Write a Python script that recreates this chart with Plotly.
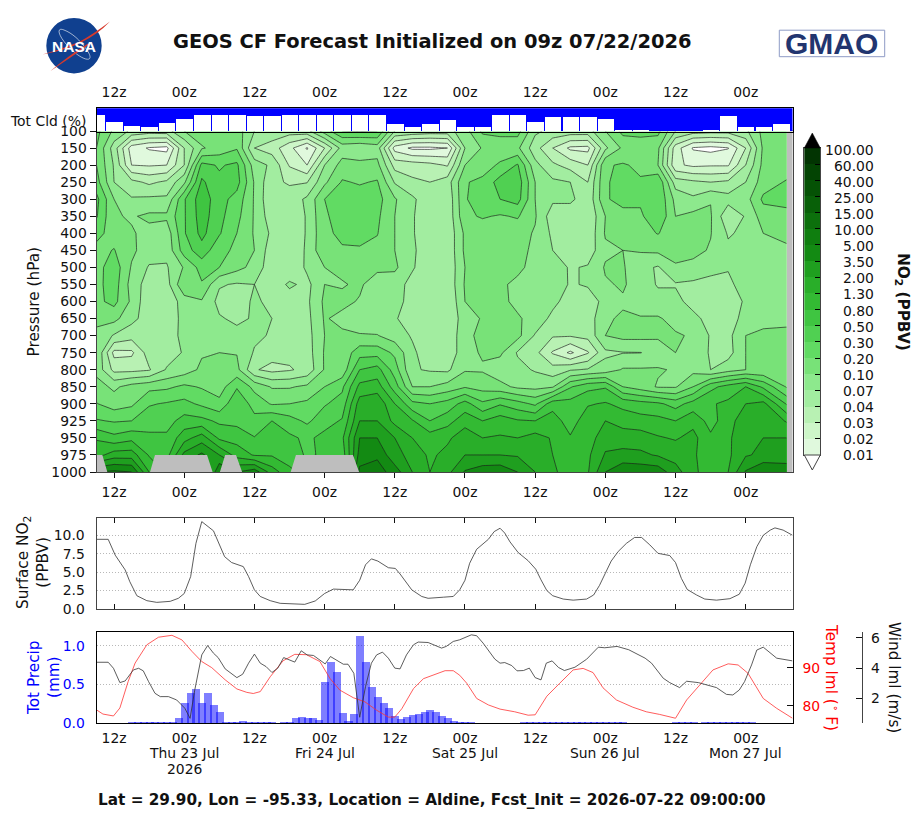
import plotly.graph_objects as go

W, H = 920, 819

# ---- time base: hours after forecast start (09z 22 Jul 2026) ----
tick_hours = [3, 15, 27, 39, 51, 63, 75, 87, 99, 111]
tick_names = ["12z", "00z", "12z", "00z", "12z", "00z", "12z", "00z", "12z", "00z"]
date_hours = [15, 39, 63, 87, 111]
date_names = ["Thu 23 Jul", "Fri 24 Jul", "Sat 25 Jul", "Sun 26 Jul", "Mon 27 Jul"]

# ---- NO2 curtain ----
pressure_labels = ["100", "150", "200", "250", "300", "350", "400", "450", "500", "550", "600",
                   "650", "700", "750", "800", "850", "900", "925", "950", "975", "1000"]
curtain_hours = [3 * i for i in range(39)] + [118]
no2_levels = ["0.01", "0.02", "0.03", "0.04", "0.07", "0.10", "0.20", "0.30", "0.50", "0.80",
              "1.30", "2.00", "3.50", "5.00", "10.00", "15.00", "25.00", "40.00", "60.00", "100.00"]
band_colors = ["#E0F9DD", "#CDF6C8", "#B8F1B3", "#A2EDA0", "#8DE98D", "#78E278", "#61DB63",
               "#50D052", "#3FC541", "#33BA33", "#29AE29", "#1F9F1F", "#138A13", "#0F7E0F",
               "#0C700C", "#086008", "#055205", "#034403", "#023402"]

# Each row is one pressure level; a value of n.f lies f of the way from no2_levels[n] to no2_levels[n+1].
no2_p100 = [6.3,4.8,3.8,3.5,3.6,5.0,5.5,5.6,5.5,4.0,3.7,3.5,3.7,5.5,7.0,7.1,7.0,4.0,3.8,3.6,3.6,4.6,6.2,6.4,6.4,4.2,3.7,3.6,3.6,5.0,6.3,6.4,6.3,4.0,3.5,3.4,3.4,3.8,5.3,5.2]
no2_p150 = [6.0,3.5,0.5,-0.1,-0.3,3.0,4.9,5.4,5.9,3.0,2.5,1.3,-0.1,2.0,4.4,4.2,4.5,0.6,-0.2,-0.2,0.0,4.0,5.1,5.2,5.2,3.4,2.0,0.8,0.7,3.8,5.2,5.3,5.2,1.5,-0.1,-0.3,-0.05,2.0,5.2,5.3]
no2_p200 = [6.0,3.9,1.0,0.9,1.0,3.0,7.3,6.9,7.2,4.5,3.8,1.9,1.0,4.0,5.4,5.3,5.3,2.6,2.5,2.3,1.9,5.0,5.4,6.2,7.1,4.3,3.2,2.6,2.0,5.9,6.1,5.8,5.0,1.2,0.8,0.9,0.9,3.0,5.3,5.4]
no2_p250 = [6.4,4.0,3.3,2.8,3.2,4.8,8.2,7.2,7.4,4.9,3.2,2.9,2.95,4.8,6.1,5.9,6.1,3.9,3.2,3.0,3.5,5.9,6.3,7.4,7.6,5.0,4.2,4.0,3.0,5.9,6.3,6.1,6.9,3.5,3.2,3.0,3.2,4.0,5.5,6.1]
no2_p300 = [7.3,5.0,4.1,4.2,4.2,6.9,8.6,7.4,6.6,4.9,3.1,3.4,4.2,6.0,6.4,6.5,6.4,5.1,4.2,3.3,3.2,5.95,6.3,7.0,7.4,5.0,4.2,4.3,3.2,5.9,6.3,6.2,6.9,4.7,4.2,4.95,4.4,4.6,6.2,6.3]
no2_p350 = [7.1,5.1,4.9,5.2,5.2,6.9,8.5,7.3,6.3,4.9,3.4,3.2,4.1,5.9,6.3,6.4,6.2,5.0,4.1,3.3,3.2,5.8,6.1,5.9,6.1,5.1,3.4,3.1,3.1,5.0,5.7,5.8,6.9,5.0,5.3,5.1,3.2,4.1,5.5,5.7]
no2_p400 = [6.3,5.6,5.1,4.7,4.4,6.9,8.3,7.1,6.0,4.9,3.8,3.2,4.1,5.8,6.2,6.3,6.05,5.0,4.1,3.3,3.2,5.2,5.4,5.5,5.4,4.9,3.8,3.2,3.2,5.1,5.7,5.6,6.05,5.4,5.4,5.05,3.9,4.2,5.0,5.3]
no2_p450 = [5.7,6.05,5.2,4.5,4.3,6.5,7.6,6.3,5.8,5.0,3.4,3.0,4.2,5.8,5.9,5.9,5.7,5.0,4.2,3.3,3.2,5.2,5.3,5.3,5.3,4.8,4.0,3.9,3.4,4.8,5.0,5.1,5.2,5.3,5.3,4.9,4.2,4.3,4.7,4.8]
no2_p500 = [5.6,6.6,4.9,3.9,3.9,5.1,6.4,6.0,5.3,4.7,3.3,3.1,4.2,5.0,5.3,5.4,5.3,5.2,4.1,3.4,3.2,5.0,5.2,5.2,5.2,4.7,4.5,3.9,4.1,5.1,5.1,4.3,3.9,4.9,4.7,4.3,4.1,4.5,4.4,4.4]
no2_p550 = [5.7,6.5,4.6,3.5,3.6,5.9,5.9,4.1,3.9,4.0,3.3,4.2,3.7,5.0,4.9,5.2,4.3,4.4,3.7,3.3,3.2,5.1,5.2,5.15,4.8,5.0,4.6,3.9,4.1,4.9,5.1,4.6,3.9,3.9,3.8,3.7,3.7,4.6,4.6,5.0]
no2_p600 = [5.75,6.3,4.8,3.2,3.2,4.5,4.9,3.7,3.4,4.2,3.7,3.4,3.8,5.2,5.3,4.9,4.2,4.2,3.8,3.1,3.0,5.0,5.2,5.2,4.8,4.9,4.3,3.5,3.5,4.3,4.9,4.4,4.4,4.4,3.5,3.2,3.2,4.2,4.6,4.9]
no2_p650 = [5.2,5.3,4.3,3.5,3.2,4.4,4.9,4.1,3.8,4.1,4.0,3.6,3.7,5.1,4.7,4.3,4.3,4.1,3.5,3.3,3.2,4.5,5.1,5.1,5.1,4.7,3.7,3.3,3.4,4.9,5.1,5.1,5.1,4.7,4.4,3.5,3.2,4.6,4.7,4.8]
no2_p700 = [4.8,3.9,3.4,3.7,3.3,4.4,4.9,4.7,4.3,4.2,3.9,3.4,3.6,5.0,5.2,5.1,5.05,4.5,3.9,3.2,3.2,4.7,5.3,5.4,5.3,3.9,3.1,3.1,3.3,5.0,5.3,5.3,5.2,5.1,4.9,3.9,3.7,5.0,5.2,5.2]
no2_p750 = [5.0,1.7,1.8,3.5,3.5,4.1,4.9,5.0,4.95,3.9,3.4,3.3,3.5,5.1,5.3,6.6,6.6,5.8,4.2,3.4,3.2,4.7,5.1,5.2,3.9,3.3,1.9,0.8,1.9,3.8,3.96,3.98,4.3,5.0,4.6,3.9,3.6,5.0,5.2,5.2]
no2_p800 = [4.7,2.7,2.7,2.9,4.1,4.5,5.2,5.2,5.3,3.1,2.7,2.9,3.3,5.1,5.3,8.0,8.4,6.5,4.1,3.9,3.8,4.9,4.9,4.4,4.3,3.9,3.4,3.9,4.1,4.4,5.1,5.1,5.1,4.9,4.7,4.0,4.6,5.0,5.1,5.1]
no2_p850 = [5.4,4.8,5.4,5.7,5.8,6.2,5.9,5.5,6.9,5.7,4.9,4.9,5.2,6.0,6.8,9.3,9.5,7.5,5.0,5.0,5.4,5.9,5.6,5.3,4.8,4.7,4.9,6.9,7.7,7.9,6.0,5.5,4.9,4.9,6.0,7.7,8.4,9.0,7.8,5.9]
no2_p900 = [6.05,5.5,5.8,6.9,7.1,7.3,6.8,6.3,7.8,6.6,5.9,6.0,6.2,6.9,7.4,10.5,10.8,9.0,7.3,7.0,7.4,8.4,7.2,7.9,7.4,6.8,8.6,8.4,8.9,9.1,8.7,8.4,8.2,7.6,8.4,8.9,9.2,10.0,10.3,7.9]
no2_p925 = [7.1,6.9,7.0,7.6,7.6,8.4,8.3,7.8,7.7,7.3,8.0,7.4,6.8,7.6,8.1,11.0,11.0,9.7,9.1,8.0,8.6,9.6,9.0,9.5,9.1,9.0,9.5,8.5,9.6,10.0,9.6,9.4,9.3,9.0,9.7,8.6,9.6,10.6,10.9,9.9]
no2_p950 = [8.9,8.3,8.7,8.2,8.2,9.6,10.5,8.8,8.6,8.05,8.6,8.2,7.8,8.3,8.8,12.0,12.0,11.0,10.0,9.5,9.8,10.6,10.0,10.1,10.0,10.4,9.9,9.1,9.5,10.6,10.5,10.5,10.1,9.9,10.3,9.2,9.8,10.8,11.0,11.0]
no2_p975 = [9.6,10.5,10.5,8.9,8.6,11.3,12.2,11.0,9.6,8.9,8.9,8.4,7.9,8.1,8.4,12.4,12.8,11.3,10.7,9.8,10.3,11.0,11.0,11.0,10.9,10.4,10.0,9.0,9.8,11.1,11.3,11.2,10.9,10.6,10.2,9.2,9.8,10.9,11.2,11.1]
no2_p1000 = [13.0,13.2,13.0,10.0,8.8,8.8,9.0,13.0,12.0,12.6,10.5,9.3,8.5,8.3,8.3,13.3,13.5,12.5,11.0,10.0,10.7,12.1,12.6,12.7,12.0,11.0,10.3,9.2,9.9,12.0,12.8,12.7,12.6,11.4,10.3,9.3,10.0,12.1,13.0,12.9]
no2_curtain = [no2_p100, no2_p150, no2_p200, no2_p250, no2_p300, no2_p350, no2_p400, no2_p450,
               no2_p500, no2_p550, no2_p600, no2_p650, no2_p700, no2_p750, no2_p800, no2_p850,
               no2_p900, no2_p925, no2_p950, no2_p975, no2_p1000]

# Spells where the 1000 hPa level sits under the ground (hours at 1000 hPa and at 975 hPa).
ground_start_1000 = [0, 9.15, 21.1, 33.2]
ground_start_975 = [0, 10, 22, 34.1]
ground_end_975 = [1, 18.9, 23.85, 43.85]
ground_end_1000 = [1.85, 19.85, 24.9, 44.9]

# ---- total cloud (%) ----
cloud_hours = [3 * i for i in range(40)]
total_cloud = [29, 59, 76, 80, 63, 46, 29, 29, 29, 33, 33, 29, 29, 29, 29, 29, 29, 71, 84, 67, 50, 80,
               80, 29, 29, 59, 37, 37, 37, 46, 93, 93, 100, 100, 100, 93, 33, 84, 84, 71]

# ---- surface NO2 (PPBV) ----
surf_hours = [0, 2, 3.2, 4.9, 5.7, 6.9, 8.6, 10.3, 12.6, 14, 15, 16.1, 17, 18, 20, 20.8, 21.9, 23.1, 25.1, 26,
              27, 28, 29.7, 31.4, 33.6, 35.6, 37.4, 39, 40.5, 43.9, 45, 46, 47, 48.1, 49.9, 51.1, 51.9, 53.9,
              55.6, 56.7, 59.3, 61, 62.1, 63, 63.8, 65, 67, 68, 69, 69.8, 70.7, 72.1, 73.8, 75.1, 76, 77, 78,
              79.8, 81.5, 83.8, 85, 86, 87, 88, 89.2, 90.6, 92, 93.2, 94.6, 96, 98, 99, 100, 101, 102.6, 104,
              106, 108.3, 109.9, 110.9, 111.8, 112.9, 114, 115.2, 116, 117.4, 119]
surf_no2 = [9.45, 9.45, 7.3, 5.3, 3.7, 1.8, 1.13, 0.9, 1.04, 1.45, 2.1, 4.4, 8.9, 11.85, 10.6, 9.1, 7.1, 6.3, 5.75,
            4.4, 2.6, 1.7, 1.13, 0.77, 0.68, 0.63, 1.09, 2.1, 2.7, 2.6, 3.9, 6.0, 6.8, 6.5, 5.6, 5.5, 4.75, 2.6,
            1.7, 1.45, 1.6, 1.7, 2.6, 3.9, 6.2, 8.1, 9.45, 10.5, 10.95, 10.3, 9.1, 7.65, 6.55, 5.4, 3.95, 2.5, 1.8,
            1.35, 1.2, 1.35, 1.9, 3.2, 4.85, 6.5, 7.8, 8.9, 9.7, 9.7, 8.7, 7.55, 7.25, 6.3, 4.15, 2.65, 1.9, 1.35,
            1.2, 1.4, 2.0, 3.5, 6.0, 8.45, 10.0, 10.7, 11.0, 10.7, 10.0]

# ---- hourly precipitation (mm) ----
precip_hours = list(range(6, 65)) + list(range(73, 91)) + list(range(99, 103)) + list(range(104, 113))
precip = [0.02] * 8 + [0.07, 0.265, 0.39, 0.445, 0.265, 0.39, 0.24, 0.147] + [0.02, 0.02, 0.02, 0.03, 0.02, 0.02, 0.02, 0.02, 0.02] + \
         [0.0, 0.02, 0.02, 0.07, 0.08, 0.07, 0.07, 0.04, 0.535, 0.795, 0.665, 0.135, 0.03, 0.12, 1.134, 0.795, 0.47, 0.34,
          0.265, 0.2, 0.095, 0.056, 0.08, 0.108, 0.12, 0.147, 0.173, 0.147, 0.095, 0.07, 0.03, 0.02, 0.02, 0.02] + \
         [0.02] * 18 + [0.02] * 4 + [0.02] * 9

# ---- boundary-layer wind (m/s) ----
wind_hours = [0, 2, 2.9, 4, 4.9, 6.3, 7.2, 8, 8.9, 10, 10.9, 12.3, 13.7, 15.1, 16, 16.8, 18, 19, 20, 20.8, 22, 24, 25, 26,
              27, 28, 29, 30, 31, 32, 33.9, 35, 36, 37.1, 39.1, 40, 42.2, 43, 44, 45, 46, 47, 47.9, 48.9, 49.9, 51, 51.9,
              53, 54.2, 55, 56.7, 59, 59.8, 61, 62.1, 64.1, 65, 66.1, 68.1, 69, 69.8, 71, 71.9, 73, 74, 75, 76, 76.9,
              77.9, 79, 80, 81.8, 83.8, 85.8, 86.9, 89, 91, 93.8, 94.9, 96.9, 98, 99.7, 100.9, 102.9, 106, 107.7, 108.8,
              109.9, 110.8, 112, 112.9, 114, 116.3, 117.7, 119]
wind = [4.39, 4.39, 3.99, 3.04, 3.15, 3.88, 3.99, 3.82, 3.11, 2.33, 2.11, 2.11, 1.89, 1.34, 0.67, 2.55, 4.88, 5.5, 4.99, 4.7,
        3.95, 3.37, 3.6, 4.33, 4.93, 4.33, 4.1, 3.71, 4.0, 4.7, 4.4, 5.15, 4.88, 4.84, 4.28, 4.77, 4.26, 4.26, 3.66, 0.74,
        2.78, 4.33, 4.88, 5.06, 4.66, 4.0, 3.95, 4.88, 5.55, 5.73, 5.7, 5.33, 5.44, 5.77, 5.88, 6.21, 6.15, 5.66, 4.6, 4.33,
        4.37, 4.17, 3.82, 3.84, 4.0, 3.37, 3.22, 4.33, 4.48, 4.04, 3.84, 4.06, 4.59, 5.39, 5.35, 5.44, 5.22, 4.66, 4.33, 3.33,
        3.04, 2.71, 3.13, 3.04, 2.71, 2.26, 2.22, 2.55, 3.1, 4.21, 5.2, 5.39, 4.66, 4.59, 4.48]

# ---- boundary-layer temperature (F) ----
temp_hours = [0, 1.1, 2.9, 4, 5.4, 6.6, 8.6, 10.6, 12.9, 14.6, 16.3, 18, 19.7, 22, 24, 25.7, 26.8, 28, 29.7, 31.9, 33.9,
              35.9, 38.2, 39.9, 41.6, 43.9, 45.9, 47.9, 49.9, 51, 52.2, 54.2, 55.9, 57.6, 59.6, 61, 62.1, 63.3, 65, 67, 69,
              71.5, 73.8, 75, 77, 79.2, 81.5, 83.2, 84.9, 86.6, 88.9, 91.7, 94, 96.3, 99, 100.9, 102.9, 105.4, 108, 109.7,
              111.4, 114, 116.3, 119]
temp = [78.9, 77.8, 77.3, 79.4, 86.3, 91.2, 96.0, 98.0, 98.5, 97.3, 94.3, 91.6, 90.0, 86.8, 84.4, 83.5, 83.2, 83.7, 87.6, 91.8,
        93.5, 93.4, 91.6, 87.2, 84.1, 82.1, 81.0, 78.8, 77.0, 77.0, 79.2, 84.5, 87.1, 88.0, 89.2, 89.2, 88.0, 85.9, 81.9, 80.2,
        79.1, 78.4, 77.5, 77.6, 82.5, 85.9, 89.4, 89.8, 88.7, 84.7, 81.5, 79.6, 78.4, 77.7, 76.7, 81.5, 85.0, 89.4, 91.0, 90.7,
        88.5, 81.9, 79.3, 76.7]


def fx(px):
    return px / W


def fy(py):
    return 1 - py / H


ink = "#111111"
frame = "#444444"
TICK = 13.9
LABEL = 15.28
font_tick = dict(family="DejaVu Sans", size=TICK, color=ink)
time_range = [0, 119]
levels_idx = list(range(21))

fig = go.Figure()

# Total cloud strip: clear-sky remainder drawn in white on a blue ground
fig.add_trace(go.Bar(x=[time_range[1] / 2], y=[100], width=time_range[1], marker=dict(color="#0000FF", line=dict(width=0)),
                     xaxis="x2", yaxis="y2", showlegend=False))
fig.add_trace(go.Bar(x=cloud_hours, y=[100 - c for c in total_cloud], width=2.82,
                     marker=dict(color="white", line=dict(width=0)), xaxis="x2", yaxis="y2", showlegend=False))

# NO2 pressure-time curtain; each interval's midpoint lands exactly on its colour stop
band_fill = ["#FFFFFF"] + band_colors
n_band = len(band_fill)
scale = [[k / n_band, c] for k, c in enumerate(band_fill)] + [[1, band_fill[-1]]]
fig.add_trace(go.Contour(x=curtain_hours, y=levels_idx, z=no2_curtain, autocontour=False,
                         colorscale=scale, showscale=False, xaxis="x", yaxis="y",
                         contours=dict(start=0, end=19, size=1, coloring="fill", showlines=True),
                         line=dict(color="#1a1a1a", width=0.65, smoothing=0), hoverinfo="skip"))

# Below-ground wedges at the foot of the curtain
gx, gy = [], []
idx_975, idx_1000 = pressure_labels.index("975"), pressure_labels.index("1000")
for a, b, c, d in zip(ground_start_1000, ground_start_975, ground_end_975, ground_end_1000):
    gx += [a, b, c, d, a, None]
    gy += [idx_1000, idx_975, idx_975, idx_1000, idx_1000, None]
fig.add_trace(go.Scatter(x=gx, y=gy, mode="lines", fill="toself", fillcolor="#BEBEBE", line=dict(width=0),
                         xaxis="x", yaxis="y", showlegend=False, hoverinfo="skip"))

# Surface NO2
fig.add_trace(go.Scatter(x=surf_hours, y=surf_no2, mode="lines", line=dict(color="#333333", width=0.8),
                         xaxis="x3", yaxis="y3", showlegend=False))

# Precipitation, temperature and wind share the bottom panel
fig.add_trace(go.Bar(x=precip_hours, y=precip, width=1.37, marker=dict(color="rgba(0,0,255,0.5)", line=dict(width=0)),
                     xaxis="x4", yaxis="y4", showlegend=False))
fig.add_trace(go.Scatter(x=temp_hours, y=temp, mode="lines", line=dict(color="#FF3333", width=0.8),
                         xaxis="x4", yaxis="y5", showlegend=False))
fig.add_trace(go.Scatter(x=wind_hours, y=wind, mode="lines", line=dict(color="#333333", width=0.8),
                         xaxis="x4", yaxis="y6", showlegend=False))

# Colour key
n_key = len(band_colors)
fig.add_trace(go.Bar(x=[0] * n_key, y=[1] * n_key, base=list(range(n_key)), width=1,
                     marker=dict(color=band_colors, line=dict(width=0)), xaxis="x5", yaxis="y7", showlegend=False))

x_dom = [fx(96.5), fx(792.5)]
common_x = dict(range=time_range, domain=x_dom, tickvals=tick_hours, ticktext=tick_names, tickfont=font_tick,
                showgrid=False, zeroline=False)
dotted = dict(showgrid=True, gridcolor="#B8B8B8", griddash="1px,2px", gridwidth=1, zeroline=False)

fig.update_layout(
    width=W, height=H, autosize=False, margin=dict(l=0, r=0, t=0, b=0, pad=0, autoexpand=False),
    paper_bgcolor="white", plot_bgcolor="white", barmode="overlay", showlegend=False,
    font=dict(family="DejaVu Sans", color=ink),
    bargap=0,
    # curtain
    xaxis=dict(**common_x, anchor="y", ticks="outside", ticklen=5, tickwidth=1, tickcolor=ink, ticklabelstandoff=2,
               showline=True, linewidth=1, linecolor=frame, mirror=True),
    yaxis=dict(domain=[fy(472), fy(131)], range=[20, 0], tickvals=levels_idx, ticktext=pressure_labels,
               tickfont=font_tick, ticks="outside", ticklen=6, tickwidth=1, tickcolor=ink, showgrid=False,
               zeroline=False, showline=True, linewidth=1, linecolor=frame, mirror=True),
    # cloud strip
    xaxis2=dict(**common_x, anchor="y2", side="top", ticks="", ticklabelstandoff=5,
                showline=True, linewidth=1, linecolor="black", mirror=True),
    yaxis2=dict(domain=[fy(131.5), fy(108.3)], range=[0, 100], showticklabels=False, ticks="", showgrid=False,
                zeroline=False, showline=True, linewidth=1, linecolor="black", mirror=True),
    # surface NO2
    xaxis3=dict(**{**common_x, "ticktext": [""] * len(tick_hours)}, anchor="y3", ticks="inside", ticklen=5, tickcolor=ink,
                showline=True, linewidth=1, linecolor=frame, mirror="allticks"),
    yaxis3=dict(domain=[fy(609), fy(518.3)], range=[0, 12.3], tickvals=[0, 2.5, 5, 7.5, 10],
                ticktext=["0.0", "2.5", "5.0", "7.5", "10.0"], tickfont=font_tick, ticks="", ticklabelstandoff=8,
                **dotted, showline=True, linewidth=1, linecolor=frame, mirror=True),
    # precip / temperature / wind
    xaxis4=dict(**common_x, anchor="y4", ticks="", ticklabelstandoff=2,
                showline=True, linewidth=1, linecolor="black", mirror=True),
    yaxis4=dict(domain=[fy(723), fy(631.5)], range=[0, 1.184], tickvals=[0, 0.5, 1.0], ticktext=["0.0", "0.5", "1.0"],
                tickfont=dict(family="DejaVu Sans", size=TICK, color="#0000FF"), ticks="", ticklabelstandoff=8,
                **dotted, showline=True, linewidth=1, linecolor="black", mirror=True),
    yaxis5=dict(domain=[fy(723), fy(631.5)], overlaying="y4", anchor="x4", side="right", range=[75.45, 99.5],
                tickvals=[80, 90], ticks="inside", ticklen=6, tickcolor=ink, ticklabelstandoff=9,
                tickfont=dict(family="DejaVu Sans", size=TICK, color="#FF0000"), showgrid=False, zeroline=False),
    yaxis6=dict(domain=[fy(723), fy(631.5)], overlaying="y4", anchor="free", position=fx(862.3), side="right",
                range=[0.36, 6.43], tickvals=[2, 4, 6], ticks="inside", ticklen=6, tickcolor=ink, ticklabelstandoff=5,
                tickfont=font_tick, showgrid=False, zeroline=False, showline=True, linewidth=1, linecolor=frame),
    # colour key
    xaxis5=dict(domain=[fx(804.3), fx(820.3)], range=[-0.5, 0.5], anchor="y7", showticklabels=False, ticks="",
                showgrid=False, zeroline=False, showline=True, linewidth=1, linecolor=frame, mirror=True),
    yaxis7=dict(domain=[fy(455), fy(148)], range=[0, n_key], anchor="x5", side="right", tickvals=list(range(n_key + 1)),
                showticklabels=False, ticks="inside", ticklen=5, tickcolor="black", showgrid=False, zeroline=False,
                showline=True, linewidth=1, linecolor=frame, mirror=True),
)

shapes = [
    dict(type="rect", xref="x domain", yref="y domain", x0=0, x1=1, y0=0, y1=1, fillcolor="#BEBEBE", line_width=0, layer="below"),
    # colour-key end caps
    dict(type="path", xref="paper", yref="paper", fillcolor="black", line=dict(color="black", width=0.5),
         path=f"M {fx(804.3)} {fy(148)} L {fx(812.3)} {fy(133)} L {fx(820.3)} {fy(148)} Z"),
    dict(type="path", xref="paper", yref="paper", fillcolor="white", line=dict(color=frame, width=1),
         path=f"M {fx(804.3)} {fy(455)} L {fx(812.3)} {fy(470)} L {fx(820.3)} {fy(455)} Z"),
    # NASA roundel
    dict(type="circle", xref="paper", yref="paper", x0=fx(46.3), x1=fx(101.7), y0=fy(73.4), y1=fy(18), fillcolor="#10408F", line_width=0),
    dict(type="path", xref="paper", yref="paper", fillcolor="rgba(0,0,0,0)", line=dict(color="rgba(255,255,255,0.75)", width=0.8),
         path=f"M {fx(64)} {fy(30)} C {fx(54)} {fy(26)} {fx(60)} {fy(40)} {fx(74)} {fy(52)} C {fx(86)} {fy(62)} {fx(95)} {fy(62)} {fx(87)} {fy(50)} C {fx(80)} {fy(40)} {fx(72)} {fy(33)} {fx(64)} {fy(30)}"),
    dict(type="path", xref="paper", yref="paper", fillcolor="#D8392B", line_width=0,
         path=f"M {fx(42.5)} {fy(54.5)} Q {fx(86)} {fy(47)} {fx(110)} {fy(21.5)} Q {fx(92)} {fy(35)} {fx(79)} {fy(42)} Q {fx(62)} {fy(49)} {fx(42.5)} {fy(54.5)} Z"),
    dict(type="path", xref="paper", yref="paper", fillcolor="#D8392B", line_width=0,
         path=f"M {fx(50.5)} {fy(71)} Q {fx(70)} {fy(58)} {fx(90)} {fy(44)} L {fx(88)} {fy(43.5)} Q {fx(68)} {fy(56)} {fx(50.5)} {fy(71)} Z"),
    # GMAO badge
    dict(type="rect", xref="paper", yref="paper", x0=fx(779.3), x1=fx(884.7), y0=fy(56.7), y1=fy(30.2),
         fillcolor="white", line=dict(color="#8E9BC6", width=1)),
]
fig.update_layout(shapes=shapes)


def note(text, x, y, size=TICK, color=ink, angle=0, xanchor="center", yanchor="middle", family="DejaVu Sans"):
    fig.add_annotation(text=text, xref="paper", yref="paper", x=fx(x), y=fy(y), showarrow=False, textangle=angle,
                       font=dict(family=family, size=size, color=color), xanchor=xanchor, yanchor=yanchor, align="center")


note("<b>GEOS CF Forecast Initialized on 09z 07/22/2026</b>", 432, 41.5, size=19.44)
note("<b>Lat = 29.90, Lon = -95.33, Location = Aldine, Fcst_Init = 2026-07-22 09:00:00</b>", 432, 799.5, size=15.28)
note("Tot Cld (%)", 47.5, 121)
note("Pressure (hPa)", 33.5, 302, size=LABEL, angle=-90)
note("Surface NO<sub>2</sub><br>(PPBV)", 33, 563, size=LABEL, angle=-90)
note("Tot Precip<br>(mm)", 44, 678, size=LABEL, color="#0000FF", angle=-90)
note("Temp lml (<sup>∘</sup> F)", 832, 677, size=LABEL, color="#FF0000", angle=90)
note("Wind lml (m/s)", 894, 677, size=LABEL, angle=90)
note("<b>NO<sub>2</sub> (PPBV)</b>", 902, 302, size=LABEL, angle=90)
note("<b>NASA</b>", 74, 46, size=15.5, color="white", family="Liberation Sans")
note("<b>GMAO</b>", 831.5, 43, size=30, color="#22356F", family="Liberation Sans")

# Calendar line under the 00z ticks
for h, name in zip(date_hours, date_names):
    fig.add_annotation(text=name, xref="x4", yref="paper", x=h, y=fy(753), showarrow=False,
                       font=font_tick, xanchor="center", yanchor="middle")
fig.add_annotation(text="2026", xref="x4", yref="paper", x=date_hours[0], y=fy(769), showarrow=False,
                   font=font_tick, xanchor="center", yanchor="middle")

# Key labels sit right-aligned beside their contour level, drifting slightly below the tick towards the top
for i, lab in enumerate(no2_levels):
    fig.add_annotation(text=lab, xref="paper", yref="y7", x=fx(876), y=i, showarrow=False, font=font_tick,
                       xanchor="right", yanchor="middle", yshift=-2 * i / 19)

fig.write_html("out.html")
